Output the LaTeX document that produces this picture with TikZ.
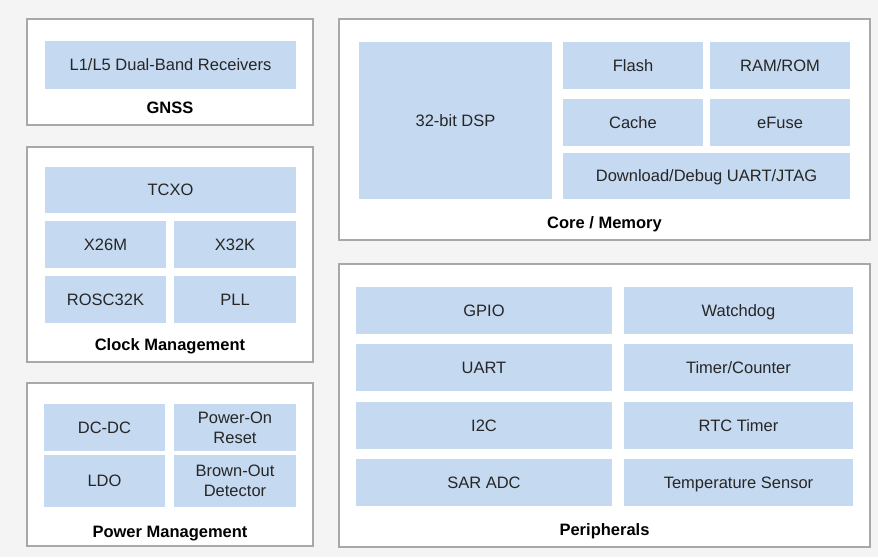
\documentclass[tikz,border=0pt]{standalone}
\usepackage{fontspec}
\setmainfont{Liberation Sans}
\definecolor{bgray}{HTML}{F4F4F4}
\definecolor{framegray}{HTML}{A8A8A8}
\definecolor{blkblue}{HTML}{C5D9F1}
\definecolor{txtgray}{HTML}{262626}
\tikzset{
    panel/.style={draw=framegray, line width=1.2pt, fill=white, inner sep=0pt},
    blkbase/.style={fill=blkblue, inner sep=0pt, text=txtgray, align=center,
        font=\fontsize{16.5}{20}\selectfont},
    blk/.style={blkbase, text height=13pt, text depth=1.5pt},
    blktwo/.style={blkbase},
    title/.style={font=\fontsize{16.5}{20}\selectfont\bfseries, text=black,
        text height=13pt, text depth=1.5pt}
}
\begin{document}
\begin{tikzpicture}[x=1pt, y=-1pt]
    \fill[bgray] (0,0) rectangle (878,557);
    \useasboundingbox (0,0) rectangle (878,557);

    % GNSS (top left)
    \node[panel, minimum width=286pt, minimum height=106pt] (gnss) at (170,72) {};
    \node[blk, minimum width=251pt, minimum height=48pt] (rcv) at (170.5,65) {L1/L5 Dual-Band Receivers};
    \node[title] (gnsslbl) at (170,108) {GNSS};

    % Clock management (middle left)
    \node[panel, minimum width=286pt, minimum height=215pt] (clk) at (170,254.5) {};
    \node[blk, minimum width=251pt, minimum height=46pt] (tcxo) at (170.5,190) {TCXO};
    \node[blk, minimum width=121pt, minimum height=47pt] (xa) at (105.5,244.5) {X26M};
    \node[blk, minimum width=122pt, minimum height=47pt] (xb) at (235,244.5) {X32K};
    \node[blk, minimum width=121pt, minimum height=47pt] (rosc) at (105.5,299.5) {ROSC32K};
    \node[blk, minimum width=122pt, minimum height=47pt] (pll) at (235,299.5) {PLL};
    \node[title] (clklbl) at (170,345) {Clock Management};

    % Power management (bottom left)
    \node[panel, minimum width=286pt, minimum height=163pt] (pwr) at (170,464.5) {};
    \node[blk, minimum width=121pt, minimum height=47pt] (dcdc) at (104.5,427.5) {DC-DC};
    \node[blktwo, minimum width=122pt, minimum height=47pt] (por) at (235,427.5) {Power-On\\Reset};
    \node[blk, minimum width=121pt, minimum height=52pt] (ldo) at (104.5,481) {LDO};
    \node[blktwo, minimum width=122pt, minimum height=52pt] (bod) at (235,481) {Brown-Out\\Detector};
    \node[title] (pwrlbl) at (170,532) {Power Management};

    % Core / memory (top right)
    \node[panel, minimum width=531pt, minimum height=221pt] (core) at (604.5,129.5) {};
    \node[blk, minimum width=193pt, minimum height=157pt] (dsp) at (455.5,120.5) {32-bit DSP};
    \node[blk, minimum width=140pt, minimum height=47pt] (flash) at (633,65.5) {Flash};
    \node[blk, minimum width=140pt, minimum height=47pt] (ram) at (780,65.5) {RAM/ROM};
    \node[blk, minimum width=140pt, minimum height=47pt] (cache) at (633,122.5) {Cache};
    \node[blk, minimum width=140pt, minimum height=47pt] (efuse) at (780,122.5) {eFuse};
    \node[blk, minimum width=287pt, minimum height=46pt] (dbg) at (706.5,176) {Download/Debug UART/JTAG};
    \node[title] (corelbl) at (604.5,223) {Core / Memory};

    % Peripherals (bottom right)
    \node[panel, minimum width=531pt, minimum height=283pt] (peri) at (604.5,405.5) {};
    \node[blk, minimum width=256pt, minimum height=47pt] (gpio) at (484,310.5) {GPIO};
    \node[blk, minimum width=229pt, minimum height=47pt] (wdt) at (738.5,310.5) {Watchdog};
    \node[blk, minimum width=256pt, minimum height=47pt] (uart) at (484,367.5) {UART};
    \node[blk, minimum width=229pt, minimum height=47pt] (tmr) at (738.5,367.5) {Timer/Counter};
    \node[blk, minimum width=256pt, minimum height=47pt] (iic) at (484,425.5) {I2C};
    \node[blk, minimum width=229pt, minimum height=47pt] (rtc) at (738.5,425.5) {RTC Timer};
    \node[blk, minimum width=256pt, minimum height=47pt] (adc) at (484,482.5) {SAR ADC};
    \node[blk, minimum width=229pt, minimum height=47pt] (tsens) at (738.5,482.5) {Temperature Sensor};
    \node[title] (perilbl) at (604.5,530) {Peripherals};
\end{tikzpicture}
\end{document}
